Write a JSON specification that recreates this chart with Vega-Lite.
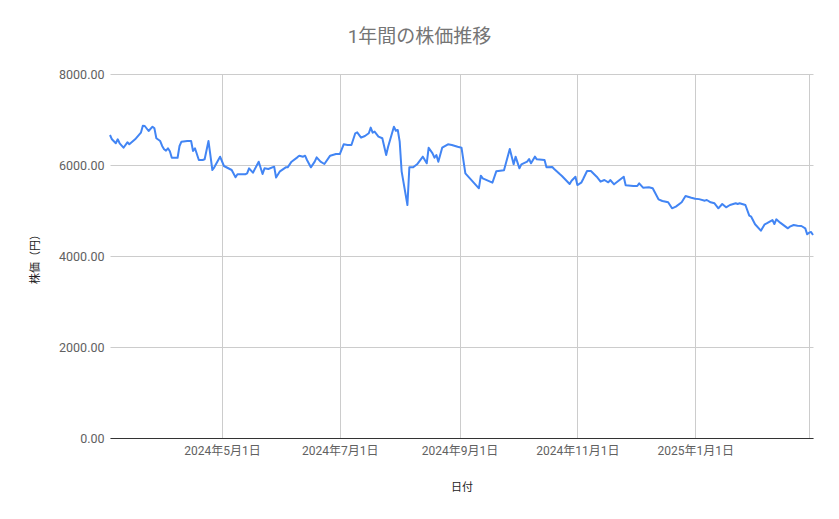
{
  "$schema": "https://vega.github.io/schema/vega-lite/v6.json",
  "width": 703,
  "height": 364,
  "autosize": {"type": "none"},
  "padding": {"left": 110, "top": 74, "right": 26, "bottom": 81},
  "background": "white",
  "config": {
    "font": "Roboto, 'Noto Sans CJK JP', sans-serif",
    "view": {"stroke": null}
  },
  "title": {
    "text": "1年間の株価推移",
    "fontSize": 19,
    "fontWeight": "normal",
    "color": "#757575",
    "anchor": "middle",
    "frame": "group",
    "dx": -42,
    "offset": 21
  },
  "data": {
    "values": [
      {"date": "2024-03-04", "price": 6659},
      {"date": "2024-03-05", "price": 6565},
      {"date": "2024-03-07", "price": 6477},
      {"date": "2024-03-08", "price": 6565},
      {"date": "2024-03-09", "price": 6477},
      {"date": "2024-03-11", "price": 6380},
      {"date": "2024-03-13", "price": 6499},
      {"date": "2024-03-14", "price": 6455},
      {"date": "2024-03-17", "price": 6565},
      {"date": "2024-03-20", "price": 6710},
      {"date": "2024-03-21", "price": 6864},
      {"date": "2024-03-22", "price": 6857},
      {"date": "2024-03-24", "price": 6747},
      {"date": "2024-03-26", "price": 6842},
      {"date": "2024-03-27", "price": 6806},
      {"date": "2024-03-28", "price": 6587},
      {"date": "2024-03-30", "price": 6527},
      {"date": "2024-03-31", "price": 6418},
      {"date": "2024-04-01", "price": 6345},
      {"date": "2024-04-02", "price": 6315},
      {"date": "2024-04-03", "price": 6367},
      {"date": "2024-04-04", "price": 6301},
      {"date": "2024-04-05", "price": 6160},
      {"date": "2024-04-08", "price": 6160},
      {"date": "2024-04-09", "price": 6418},
      {"date": "2024-04-10", "price": 6512},
      {"date": "2024-04-13", "price": 6527},
      {"date": "2024-04-15", "price": 6527},
      {"date": "2024-04-16", "price": 6308},
      {"date": "2024-04-17", "price": 6367},
      {"date": "2024-04-19", "price": 6110},
      {"date": "2024-04-21", "price": 6110},
      {"date": "2024-04-22", "price": 6125},
      {"date": "2024-04-24", "price": 6527},
      {"date": "2024-04-26", "price": 5890},
      {"date": "2024-04-27", "price": 5949},
      {"date": "2024-04-30", "price": 6183},
      {"date": "2024-05-02", "price": 5978},
      {"date": "2024-05-06", "price": 5890},
      {"date": "2024-05-08", "price": 5730},
      {"date": "2024-05-09", "price": 5795},
      {"date": "2024-05-13", "price": 5795},
      {"date": "2024-05-14", "price": 5817},
      {"date": "2024-05-15", "price": 5927},
      {"date": "2024-05-17", "price": 5831},
      {"date": "2024-05-20", "price": 6073},
      {"date": "2024-05-22", "price": 5802},
      {"date": "2024-05-23", "price": 5927},
      {"date": "2024-05-25", "price": 5912},
      {"date": "2024-05-28", "price": 5963},
      {"date": "2024-05-29", "price": 5725},
      {"date": "2024-05-31", "price": 5861},
      {"date": "2024-06-03", "price": 5949},
      {"date": "2024-06-04", "price": 5949},
      {"date": "2024-06-06", "price": 6073},
      {"date": "2024-06-09", "price": 6168},
      {"date": "2024-06-10", "price": 6205},
      {"date": "2024-06-12", "price": 6183},
      {"date": "2024-06-13", "price": 6205},
      {"date": "2024-06-14", "price": 6110},
      {"date": "2024-06-16", "price": 5949},
      {"date": "2024-06-18", "price": 6073},
      {"date": "2024-06-19", "price": 6168},
      {"date": "2024-06-21", "price": 6073},
      {"date": "2024-06-23", "price": 6022},
      {"date": "2024-06-26", "price": 6205},
      {"date": "2024-06-29", "price": 6242},
      {"date": "2024-07-01", "price": 6240},
      {"date": "2024-07-03", "price": 6455},
      {"date": "2024-07-05", "price": 6440},
      {"date": "2024-07-07", "price": 6440},
      {"date": "2024-07-09", "price": 6697},
      {"date": "2024-07-10", "price": 6718},
      {"date": "2024-07-12", "price": 6601},
      {"date": "2024-07-14", "price": 6637},
      {"date": "2024-07-16", "price": 6697},
      {"date": "2024-07-17", "price": 6821},
      {"date": "2024-07-18", "price": 6710},
      {"date": "2024-07-19", "price": 6733},
      {"date": "2024-07-21", "price": 6623},
      {"date": "2024-07-23", "price": 6587},
      {"date": "2024-07-25", "price": 6220},
      {"date": "2024-07-26", "price": 6403},
      {"date": "2024-07-29", "price": 6842},
      {"date": "2024-07-30", "price": 6754},
      {"date": "2024-07-31", "price": 6769},
      {"date": "2024-08-01", "price": 6512},
      {"date": "2024-08-02", "price": 5861},
      {"date": "2024-08-05", "price": 5121},
      {"date": "2024-08-06", "price": 5949},
      {"date": "2024-08-08", "price": 5949},
      {"date": "2024-08-10", "price": 6015},
      {"date": "2024-08-13", "price": 6183},
      {"date": "2024-08-15", "price": 6037},
      {"date": "2024-08-16", "price": 6380},
      {"date": "2024-08-18", "price": 6256},
      {"date": "2024-08-19", "price": 6160},
      {"date": "2024-08-20", "price": 6220},
      {"date": "2024-08-21", "price": 6073},
      {"date": "2024-08-23", "price": 6380},
      {"date": "2024-08-26", "price": 6455},
      {"date": "2024-08-28", "price": 6440},
      {"date": "2024-08-31", "price": 6400},
      {"date": "2024-09-02", "price": 6380},
      {"date": "2024-09-04", "price": 5817},
      {"date": "2024-09-11", "price": 5488},
      {"date": "2024-09-12", "price": 5765},
      {"date": "2024-09-13", "price": 5707},
      {"date": "2024-09-18", "price": 5611},
      {"date": "2024-09-20", "price": 5861},
      {"date": "2024-09-24", "price": 5883},
      {"date": "2024-09-27", "price": 6352},
      {"date": "2024-09-29", "price": 6015},
      {"date": "2024-09-30", "price": 6183},
      {"date": "2024-10-02", "price": 5927},
      {"date": "2024-10-03", "price": 6015},
      {"date": "2024-10-06", "price": 6073},
      {"date": "2024-10-07", "price": 6132},
      {"date": "2024-10-08", "price": 6037},
      {"date": "2024-10-10", "price": 6183},
      {"date": "2024-10-11", "price": 6125},
      {"date": "2024-10-15", "price": 6110},
      {"date": "2024-10-16", "price": 5949},
      {"date": "2024-10-19", "price": 5956},
      {"date": "2024-10-20", "price": 5912},
      {"date": "2024-10-23", "price": 5795},
      {"date": "2024-10-24", "price": 5758},
      {"date": "2024-10-28", "price": 5582},
      {"date": "2024-10-29", "price": 5655},
      {"date": "2024-10-31", "price": 5743},
      {"date": "2024-11-01", "price": 5560},
      {"date": "2024-11-03", "price": 5611},
      {"date": "2024-11-04", "price": 5692},
      {"date": "2024-11-06", "price": 5868},
      {"date": "2024-11-08", "price": 5868},
      {"date": "2024-11-11", "price": 5743},
      {"date": "2024-11-13", "price": 5633},
      {"date": "2024-11-15", "price": 5670},
      {"date": "2024-11-17", "price": 5619},
      {"date": "2024-11-18", "price": 5670},
      {"date": "2024-11-20", "price": 5575},
      {"date": "2024-11-25", "price": 5743},
      {"date": "2024-11-26", "price": 5553},
      {"date": "2024-11-30", "price": 5538},
      {"date": "2024-12-02", "price": 5538},
      {"date": "2024-12-03", "price": 5597},
      {"date": "2024-12-05", "price": 5502},
      {"date": "2024-12-08", "price": 5509},
      {"date": "2024-12-10", "price": 5488},
      {"date": "2024-12-13", "price": 5246},
      {"date": "2024-12-15", "price": 5209},
      {"date": "2024-12-18", "price": 5180},
      {"date": "2024-12-20", "price": 5048},
      {"date": "2024-12-22", "price": 5085},
      {"date": "2024-12-25", "price": 5180},
      {"date": "2024-12-27", "price": 5319},
      {"date": "2024-12-30", "price": 5282},
      {"date": "2025-01-01", "price": 5260},
      {"date": "2025-01-03", "price": 5250},
      {"date": "2025-01-06", "price": 5216},
      {"date": "2025-01-07", "price": 5231},
      {"date": "2025-01-09", "price": 5180},
      {"date": "2025-01-11", "price": 5158},
      {"date": "2025-01-13", "price": 5048},
      {"date": "2025-01-15", "price": 5143},
      {"date": "2025-01-17", "price": 5070},
      {"date": "2025-01-19", "price": 5121},
      {"date": "2025-01-22", "price": 5158},
      {"date": "2025-01-23", "price": 5143},
      {"date": "2025-01-24", "price": 5158},
      {"date": "2025-01-27", "price": 5121},
      {"date": "2025-01-29", "price": 4886},
      {"date": "2025-01-30", "price": 4864},
      {"date": "2025-02-01", "price": 4697},
      {"date": "2025-02-04", "price": 4556},
      {"date": "2025-02-06", "price": 4697},
      {"date": "2025-02-07", "price": 4718},
      {"date": "2025-02-10", "price": 4791},
      {"date": "2025-02-11", "price": 4703},
      {"date": "2025-02-12", "price": 4806},
      {"date": "2025-02-14", "price": 4733},
      {"date": "2025-02-18", "price": 4608},
      {"date": "2025-02-19", "price": 4645},
      {"date": "2025-02-21", "price": 4681},
      {"date": "2025-02-23", "price": 4667},
      {"date": "2025-02-25", "price": 4659},
      {"date": "2025-02-27", "price": 4608},
      {"date": "2025-02-28", "price": 4476},
      {"date": "2025-03-01", "price": 4513},
      {"date": "2025-03-02", "price": 4527},
      {"date": "2025-03-03", "price": 4462}
    ]
  },
  "mark": {
    "type": "line",
    "color": "#4285f4",
    "strokeWidth": 2,
    "strokeJoin": "round"
  },
  "encoding": {
    "x": {
      "field": "date",
      "type": "temporal",
      "title": "日付",
      "scale": {"type": "utc", "nice": false},
      "axis": {
        "values": [
          {"year": 2024, "month": 5, "date": 1, "utc": true},
          {"year": 2024, "month": 7, "date": 1, "utc": true},
          {"year": 2024, "month": 9, "date": 1, "utc": true},
          {"year": 2024, "month": 11, "date": 1, "utc": true},
          {"year": 2025, "month": 1, "date": 1, "utc": true},
          {"year": 2025, "month": 3, "date": 1, "utc": true}
        ],
        "labelExpr": "utcyear(datum.value) == 2025 && utcmonth(datum.value) == 2 ? '' : utcFormat(datum.value, '%Y年%-m月%-d日')",
        "grid": true,
        "gridColor": "#cccccc",
        "gridWidth": 1,
        "domain": true,
        "domainColor": "#333333",
        "domainWidth": 1,
        "ticks": false,
        "labelFontSize": 12,
        "labelColor": "#616161",
        "labelPadding": 7,
        "labelFlush": false,
        "titleFontSize": 11,
        "titleFontWeight": "normal",
        "titleColor": "#222222",
        "titleY": 49,
        "titleBaseline": "middle"
      }
    },
    "y": {
      "field": "price",
      "type": "quantitative",
      "title": "株価（円）",
      "scale": {"domain": [0, 8000], "nice": false},
      "axis": {
        "values": [0, 2000, 4000, 6000, 8000],
        "format": ".2f",
        "grid": true,
        "gridColor": "#cccccc",
        "domain": false,
        "ticks": false,
        "labelFontSize": 12.5,
        "labelColor": "#616161",
        "labelPadding": 6,
        "titleFontSize": 11,
        "titleFontWeight": "normal",
        "titleColor": "#222222",
        "titleX": -75,
        "titleBaseline": "middle"
      }
    }
  }
}
